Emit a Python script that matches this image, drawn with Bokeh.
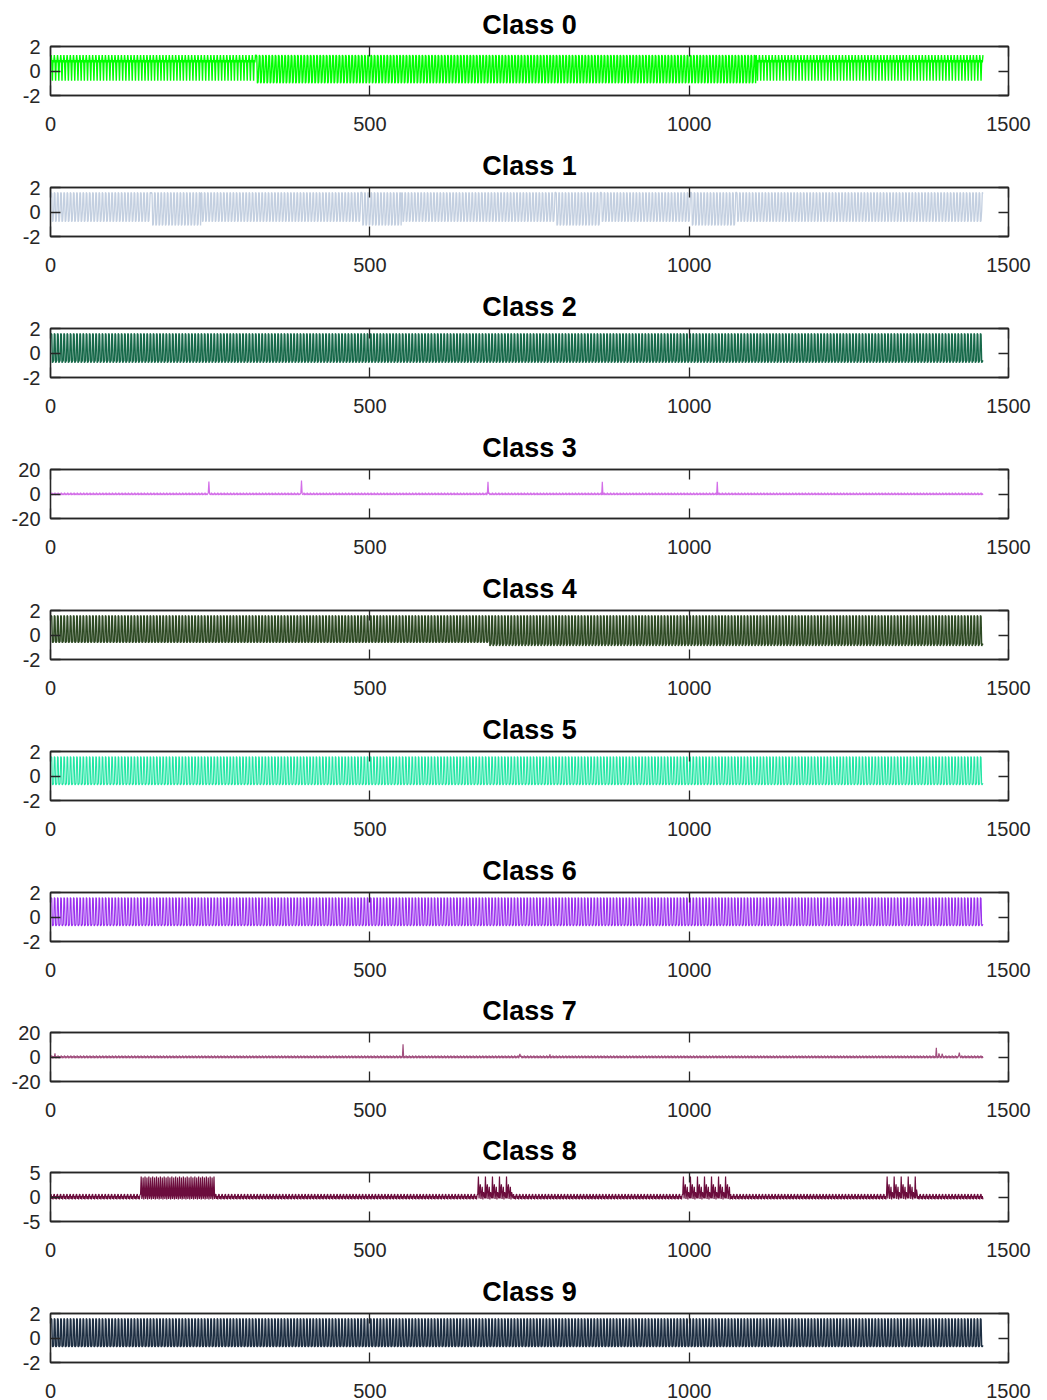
import numpy as np
from bokeh.plotting import figure
from bokeh.models import LinearAxis, Range1d, FixedTicker
from bokeh.layouts import column
from bokeh.embed import file_html
from bokeh.resources import INLINE

# ---------------- data ----------------
N_SAMPLES = 1460
x_ticks = [0, 500, 1000, 1500]
x_tick_labels = ["0", "500", "1000", "1500"]
class_titles = ["Class 0", "Class 1", "Class 2", "Class 3", "Class 4",
                "Class 5", "Class 6", "Class 7", "Class 8", "Class 9"]
line_colors = ["#00ff00", "#c3cfe0", "#17694a", "#d36ee8", "#2e4a24",
               "#22e6a4", "#9a30ee", "#a2507f", "#6c0d3d", "#1e2f43"]
y_limits = [2, 2, 2, 20, 2, 2, 2, 20, 5, 2]

# class 0: dense band near +0.8 at both ends, wide swings in the middle
c0_cycle_band = [1.3, 0.8, -0.8, 0.9, 0.7]
c0_cycle_wide = [1.3, 1.2, -1.0, -0.9, 0.2]
c0_segments = [(0, 321, "band"), (321, 1104, "wide"), (1104, 1460, "band")]

# class 1: regular swings with four deeper stretches
c1_cycle_norm = [1.6, 1.5, -0.8, -0.7, 0.1]
c1_cycle_deep = [1.6, 1.5, -1.1, -1.0, 0.0]
c1_segments = [(0, 157, "norm"), (157, 235, "deep"), (235, 486, "norm"),
               (486, 549, "deep"), (549, 790, "norm"), (790, 861, "deep"),
               (861, 1002, "norm"), (1002, 1073, "deep"), (1073, 1460, "norm")]

# class 2
c2_cycle = [1.6, 1.5, -0.8, -0.7, -0.6]

# class 3: small ripple with five spikes
c3_cycle = [0.0, 1.1, -0.9, 0.5, -0.7]
c3_spike_idx = [247, 392, 684, 863, 1043]
c3_spike_val = [10.2, 11.0, 10.0, 10.0, 10.0]

# class 4: lower troughs after ~685
c4_cycle_a = [1.6, 1.5, -0.6, -0.6, -0.5]
c4_cycle_b = [1.6, 1.5, -0.9, -0.8, -0.7]
c4_segments = [(0, 685, "a"), (685, 1460, "b")]

# classes 5, 6, 9
c5_cycle = [1.6, 1.5, -0.7, -0.7, -0.6]
c6_cycle = [1.6, 1.5, -0.7, -0.7, -0.6]
c9_cycle = [1.6, 1.5, -0.7, -0.7, -0.6]

# class 7: small ripple with a few spikes
c7_cycle = [0.0, 1.2, -1.0, 0.6, -0.8]
c7_spike_idx = [6, 551, 734, 781, 1386, 1390, 1395, 1422]
c7_spike_val = [3.0, 10.4, 2.6, 2.2, 7.6, 3.0, 2.6, 3.6]

# class 8: low ripple with four bursts
c8_cycle_base = [0.6, -0.4, 0.2, -0.5, 0.4]
c8_cycle_dense = [4.2, -0.4, 0.3, 4.0, -0.5, 0.4]
c8_cycle_burst = [4.2, -0.3, 1.5, 2.6, -0.4, 0.6, 2.1, -0.5, 1.0, 0.4, -0.3]
c8_segments = [(0, 141, "base"), (141, 258, "dense"), (258, 669, "base"),
               (669, 724, "burst"), (724, 990, "base"), (990, 1064, "burst"),
               (1064, 1309, "base"), (1309, 1356, "burst"), (1356, 1460, "base")]


# ---------------- assemble series ----------------
def from_segments(segments, cycles):
    out = []
    for start, end, key in segments:
        out.append(np.resize(np.array(cycles[key], dtype=float), end - start))
    return np.concatenate(out)


def repeated(cycle):
    return np.resize(np.array(cycle, dtype=float), N_SAMPLES)


def with_spikes(base, idx, vals):
    y = base.copy()
    for i, v in zip(idx, vals):
        y[i] = v
    return y


series = [
    from_segments(c0_segments, {"band": c0_cycle_band, "wide": c0_cycle_wide}),
    from_segments(c1_segments, {"norm": c1_cycle_norm, "deep": c1_cycle_deep}),
    repeated(c2_cycle),
    with_spikes(repeated(c3_cycle), c3_spike_idx, c3_spike_val),
    from_segments(c4_segments, {"a": c4_cycle_a, "b": c4_cycle_b}),
    repeated(c5_cycle),
    repeated(c6_cycle),
    with_spikes(repeated(c7_cycle), c7_spike_idx, c7_spike_val),
    from_segments(c8_segments, {"base": c8_cycle_base, "dense": c8_cycle_dense,
                                "burst": c8_cycle_burst}),
    repeated(c9_cycle),
]
x = np.arange(1, N_SAMPLES + 1)

# ---------------- figures ----------------
AXIS_COLOR = "#262626"
FONT = "Liberation Sans"
tops = [46] * 10
bottoms = [46, 46, 46, 46, 46, 46, 45, 45, 46, 38]
widths = [1.4, 1.3, 1.4, 1.2, 1.4, 1.1, 1.1, 1.2, 1.2, 1.4]


def style_axis(ax):
    ax.axis_line_color = AXIS_COLOR
    ax.axis_line_width = 1.3
    ax.major_tick_line_color = AXIS_COLOR
    ax.major_tick_line_width = 1.3
    ax.major_tick_in = 10
    ax.major_tick_out = 0
    ax.minor_tick_line_color = None
    ax.major_label_text_font = FONT
    ax.major_label_text_color = AXIS_COLOR
    ax.major_label_text_font_size = "20px"


figs = []
for i in range(10):
    lim = y_limits[i]
    yt = [-lim, 0, lim]
    y_lab = {-lim: "-" + str(lim), 0: "0", lim: str(lim)}
    x_lab = dict(zip(x_ticks, x_tick_labels))
    p = figure(frame_width=958, frame_height=49, output_backend="svg",
               toolbar_location=None,
               x_range=Range1d(0, 1500), y_range=Range1d(-lim, lim),
               x_axis_location=None, y_axis_location=None,
               min_border_left=50, min_border_right=31,
               min_border_top=tops[i], min_border_bottom=bottoms[i])
    p.title.text = class_titles[i]
    p.title.align = "center"
    p.title.text_font = FONT
    p.title.text_font_style = "bold"
    p.title.text_font_size = "27px"
    p.title.text_color = "#000000"
    p.title.standoff = 14
    p.xgrid.visible = False
    p.ygrid.visible = False
    p.outline_line_color = AXIS_COLOR
    p.outline_line_width = 1.3
    p.background_fill_color = "white"
    p.border_fill_color = "white"

    xb = LinearAxis(ticker=FixedTicker(ticks=x_ticks), major_label_overrides=x_lab)
    style_axis(xb)
    xb.major_label_standoff = 21
    p.add_layout(xb, "below")
    xa = LinearAxis(ticker=FixedTicker(ticks=x_ticks),
                    major_label_overrides={t: "" for t in x_ticks})
    style_axis(xa)
    xa.major_label_standoff = 0
    p.add_layout(xa, "above")

    yl = LinearAxis(ticker=FixedTicker(ticks=yt), major_label_overrides=y_lab)
    style_axis(yl)
    yl.major_label_standoff = 10
    p.add_layout(yl, "left")
    yr = LinearAxis(ticker=FixedTicker(ticks=yt),
                    major_label_overrides={t: "" for t in yt})
    style_axis(yr)
    yr.major_label_standoff = 0
    p.add_layout(yr, "right")

    p.line(x, series[i], line_color=line_colors[i], line_width=widths[i])
    figs.append(p)

layout = column(*figs, spacing=0)
open("out.html", "w").write(file_html(layout, INLINE))
